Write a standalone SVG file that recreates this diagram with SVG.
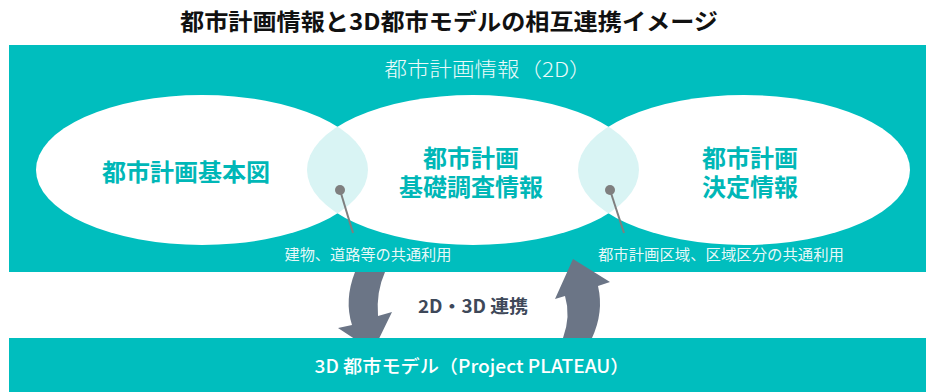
<svg xmlns="http://www.w3.org/2000/svg" width="926" height="392" viewBox="0 0 926 392">
<style>
.jp{font-family:"Noto Sans CJK JP","Noto Sans",sans-serif}
.band{fill:#00bebe}
.ell{fill:#ffffff}
.lens{fill:#d9f4f4}
.main{font-size:24px;font-weight:700;fill:#00b7b7;text-anchor:middle}
.small{font-size:15px;fill:#ffffff;fill-opacity:0.92;text-anchor:middle}
.arrow{fill:#6b7586}
.pin{stroke:#7f7f7f;stroke-width:2}
</style>
<defs>
<clipPath id="cL"><ellipse cx="202" cy="170" rx="166" ry="75"/></clipPath>
<clipPath id="cR"><ellipse cx="744" cy="170" rx="166" ry="75"/></clipPath>
</defs>
<rect width="926" height="392" fill="#ffffff"/>
<text class="jp" x="449" y="30" font-size="23" font-weight="700" fill="#111" text-anchor="middle" textLength="538" lengthAdjust="spacingAndGlyphs">都市計画情報と3D都市モデルの相互連携イメージ</text>

<g id="band2d">
<rect class="band" x="9" y="45" width="917" height="227"/>
<text class="jp" x="488" y="77" font-size="20" font-weight="300" fill="#eafafa" text-anchor="middle" textLength="207" lengthAdjust="spacingAndGlyphs">都市計画情報（2D）</text>
</g>

<g id="node-kihonzu">
<ellipse class="ell" cx="202" cy="170" rx="166" ry="75"/>
</g>
<g id="node-kiso">
<ellipse class="ell" cx="473" cy="170" rx="166" ry="75"/>
</g>
<g id="node-kettei">
<ellipse class="ell" cx="744" cy="170" rx="166" ry="75"/>
</g>
<g id="lenses">
<ellipse class="lens" cx="473" cy="170" rx="166" ry="75" clip-path="url(#cL)"/>
<ellipse class="lens" cx="473" cy="170" rx="166" ry="75" clip-path="url(#cR)"/>
</g>
<g id="labels-main" class="jp">
<text class="main" x="186" y="181">都市計画基本図</text>
<text class="main"><tspan x="471" y="167">都市計画</tspan><tspan x="471" y="196">基礎調査情報</tspan></text>
<text class="main"><tspan x="750" y="167">都市計画</tspan><tspan x="750" y="196">決定情報</tspan></text>
</g>

<g id="connectors">
<line class="pin" x1="340" y1="190" x2="353" y2="233"/>
<circle cx="340" cy="190" r="5" fill="#7f7f7f"/>
<line class="pin" x1="610" y1="190" x2="624" y2="233"/>
<circle cx="610" cy="190" r="5" fill="#7f7f7f"/>
<path class="arrow" d="M355,272 Q344,300 352,325 L338,328 L373,351 L392,312 L378,316 Q376,292 385,272 Z"/>
<path class="arrow" d="M563,338 Q571,316 565,296 L555,299 L573,259 L610,282 L598,286 Q604,312 592,338 Z"/>
</g>
<g id="labels-small" class="jp">
<text class="small" x="368" y="260" textLength="167" lengthAdjust="spacingAndGlyphs">建物、道路等の共通利用</text>
<text class="small" x="721" y="260" textLength="246" lengthAdjust="spacingAndGlyphs">都市計画区域、区域区分の共通利用</text>
<text class="jp" x="473" y="313" font-size="18" font-weight="700" fill="#3e4859" text-anchor="middle" textLength="110" lengthAdjust="spacingAndGlyphs">2D・3D 連携</text>
</g>

<g id="band3d">
<rect class="band" x="9" y="338" width="917" height="54"/>
<text class="jp" x="472" y="373" font-size="18" font-weight="500" fill="#ffffff" text-anchor="middle" textLength="315" lengthAdjust="spacingAndGlyphs">3D 都市モデル（Project PLATEAU）</text>
</g>
</svg>
